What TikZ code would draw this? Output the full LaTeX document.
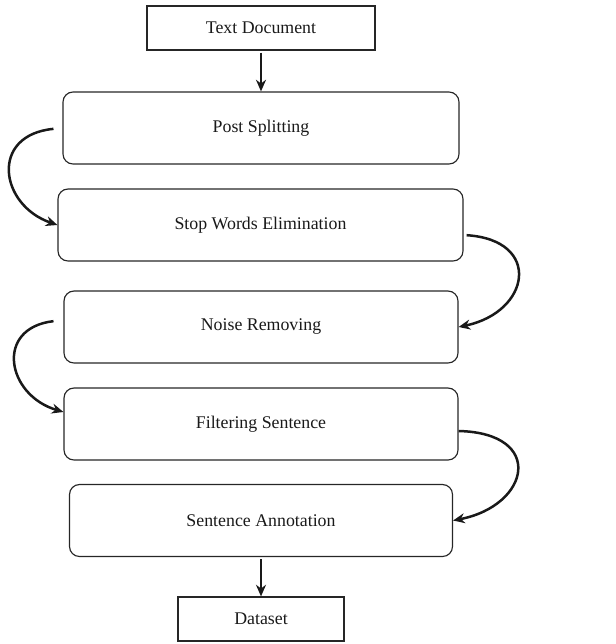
\documentclass[tikz,border=0pt]{standalone}
\usepackage{fontspec}
\setmainfont{Liberation Serif}
\usepackage{tikz}
\usetikzlibrary{arrows.meta}

\begin{document}
\begin{tikzpicture}[x=0.6pt,y=-0.6pt,line width=0.7pt]
\newcommand{\bheight}{43.2pt}
\useasboundingbox (0,0) rectangle (615,644);
\begin{scope}[shape=rectangle,font=\fontsize{10.7}{12}\selectfont]
\tikzstyle{every node}=[draw=black!85,text=black!90,minimum height=\bheight,rounded corners=6pt,inner sep=0pt]
\tikzstyle{flow}=[line width=1.5pt,black!90,-{Stealth[length=7pt,width=6pt]}]
\node[sharp corners,minimum width=136.8pt,minimum height=26.4pt] (Text_Doc) at (261,28) {Text Document};
\node[minimum width=237.6pt] (Post_Split) at (261,128) {Post Splitting};
\node[minimum width=243pt] (Stop_Words) at (260.5,225) {Stop Words Elimination};
\node[minimum width=236.4pt] (Noise_Rem) at (261,327) {Noise Removing};
\node[minimum width=236.4pt] (Filter_Sent) at (261,424) {Filtering Sentence};
\node[minimum width=229.8pt] (Sent_Annot) at (261,520.5) {Sentence Annotation};
\node[sharp corners,minimum width=99.6pt,minimum height=26.4pt] (Data_Set) at (261,619) {Dataset};
\draw [flow,shorten <=1.2pt] (Text_Doc) -- (Post_Split);
\draw [flow,shorten <=5.4pt] (Post_Split.west) .. controls +(-73,7) and +(-58,-20) .. (Stop_Words.west);
\draw [flow,shorten <=1.8pt] ([yshift=-6pt]Stop_Words.east) .. controls +(79,5) and +(72,-15) .. (Noise_Rem.east);
\draw [flow,shorten <=6pt] ([yshift=4.2pt]Noise_Rem.west) .. controls +(-69,8) and +(-57,-17) .. ([yshift=7.2pt]Filter_Sent.west);
\draw [flow] ([yshift=-4.2pt]Filter_Sent.east) .. controls +(87,2) and +(77,-15) .. (Sent_Annot.east);
\draw [flow,shorten <=1.2pt] (Sent_Annot) -- (Data_Set);
\end{scope}
\end{tikzpicture}
\end{document}
